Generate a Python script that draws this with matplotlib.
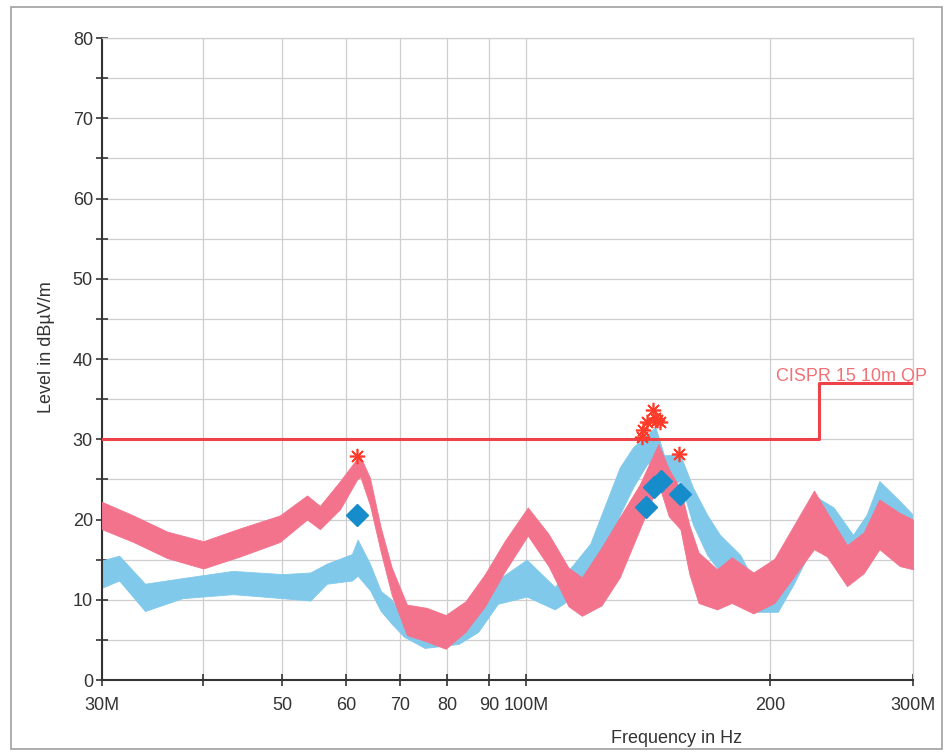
import numpy as np
import matplotlib
matplotlib.use("Agg")
import matplotlib.pyplot as plt
from matplotlib.patches import Rectangle
from matplotlib.ticker import FixedLocator, FixedFormatter, NullLocator

plt.rcParams['font.family'] = ['Liberation Sans', 'DejaVu Sans']

# horizontal trace (pink), read as low/high envelope of the noisy band
pink_f = [30, 32.8, 36.1, 40, 44.4, 49.7, 53.7, 55.7, 59, 61.9, 62.5, 64.2, 66.2,
          68.3, 71.3, 75.4, 79.6, 84.2, 89, 94.1, 100.5, 106.6, 112.8, 117.2,
          123.9, 130.5, 138, 145.6, 150, 155, 159, 163.2, 172, 179.3, 190.7,
          202.4, 214, 226.5, 235, 248.8, 260.8, 272.7, 289, 300]
pink_lo = [18.8, 17.2, 15.2, 13.9, 15.4, 17.2, 20.0, 18.8, 21.3, 25.0, 25.3, 21.8, 16.0,
           10.6, 5.6, 4.8, 3.9, 6.0, 9.2, 13.5, 18.0, 14.2, 9.2, 8.0,
           9.3, 12.8, 18.7, 24.5, 20.4, 18.8, 13.2, 9.6, 8.8, 9.6, 8.3,
           9.6, 12.9, 16.3, 15.4, 11.7, 13.3, 16.3, 14.2, 13.8]
pink_hi = [22.2, 20.5, 18.5, 17.3, 18.9, 20.5, 23.0, 21.7, 24.8, 27.6, 27.8, 25.2, 19.0,
           14.0, 9.4, 9.0, 8.1, 9.8, 13.2, 17.3, 21.5, 18.2, 14.0, 12.8,
           16.5, 20.3, 24.3, 29.4, 26.3, 23.8, 19.3, 15.9, 13.8, 15.3, 13.4,
           15.1, 19.3, 23.6, 20.9, 16.8, 18.4, 22.5, 20.8, 20.0]

# vertical trace (light blue)
blue_f = [30, 31.5, 33.9, 37.7, 43.5, 50.1, 54.2, 56.8, 61, 62, 64.2, 66.2, 68.3,
          70.7, 75, 82.6, 87.3, 92.3, 100.2, 108.5, 114.6, 120, 126.3, 130.5,
          135.5, 141, 144.4, 148, 154.9, 160.6, 167.2, 173.4, 183.7, 192.9,
          204.4, 213.9, 226.5, 239.5, 253, 263, 272.7, 289, 300]
blue_lo = [11.5, 12.4, 8.6, 10.2, 10.7, 10.2, 9.9, 12, 12.4, 13, 11.2, 8.6, 7,
           5.4, 4, 4.5, 6, 9.5, 10.4, 8.8, 10.4, 12, 16.5, 20.6,
           24, 26.9, 27.5, 24, 24.8, 19.4, 15.6, 13.5, 12.3, 8.5,
           8.5, 12, 17, 17, 15.6, 16.9, 20.6, 19, 18.1]
blue_hi = [14.9, 15.5, 12, 12.7, 13.6, 13.2, 13.4, 14.5, 15.7, 17.5, 14.5, 11.1, 10,
           7.5, 6.5, 6.5, 9, 12.5, 15, 11.6, 14.5, 17, 22.8, 26.5,
           29, 30.6, 31.5, 28, 28.1, 24, 20.6, 18.1, 15.6, 11.5,
           13.1, 17, 23, 21.5, 18.1, 20.6, 24.8, 22.3, 20.6]

# CISPR 15 10m QP limit
limit_f = [30, 230, 230, 300]
limit_db = [30, 30, 37, 37]

# peak markers (asterisks) and final QP results (diamonds)
peak_f = [61.9, 138.9, 139.3, 141.0, 143.4, 144.1, 145.2, 146.2, 154.6]
peak_db = [27.9, 30.3, 31.2, 32.2, 33.6, 32.6, 32.4, 32.2, 28.2]
qp_f = [61.9, 140.6, 143.9, 146.9, 154.9]
qp_db = [20.6, 21.6, 24.0, 24.8, 23.2]

xticks = [30, 40, 50, 60, 70, 80, 90, 100, 200, 300]
xticklabels = ['30M', '', '50', '60', '70', '80', '90', '100M', '200', '300M']

fig = plt.figure(figsize=(9.52, 7.54), dpi=100)
ax = fig.add_axes([0.1071, 0.0981, 0.8519, 0.8515])

ax.fill_between(blue_f, blue_lo, blue_hi, color='#80c9eb', lw=0.6,
                edgecolor='#80c9eb', zorder=2)
ax.fill_between(pink_f, pink_lo, pink_hi, color='#f3738d', lw=0.6,
                edgecolor='#f3738d', zorder=3)
ax.plot(limit_f, limit_db, color='#ee4249', lw=2.2, zorder=4)
ax.plot(peak_f, peak_db, ls='none', marker=(8, 2, 0), ms=11, mew=1.2,
        color='#ff3a28', zorder=5)
ax.plot(qp_f, qp_db, ls='none', marker='D', ms=11, color='#168ccb', zorder=6)

ax.text(312, 36.8, 'CISPR 15 10m QP', color='#f07276', fontsize=13,
        ha='right', va='bottom', clip_on=False)

ax.set_xscale('log')
ax.set_xlim(30, 300)
ax.set_ylim(0, 80)
ax.xaxis.set_major_locator(FixedLocator(xticks))
ax.xaxis.set_major_formatter(FixedFormatter(xticklabels))
ax.xaxis.set_minor_locator(NullLocator())
ax.set_yticks(np.arange(0, 81, 10))
ax.set_yticks(np.arange(5, 80, 10), minor=True)

ax.grid(True, which='both', color='#cfcfcf', lw=0.9, zorder=0)
ax.set_axisbelow(True)
ax.tick_params(axis='both', which='both', direction='inout', length=9,
               width=1.2, color='#333333', labelsize=13, labelcolor='#333333')
ax.tick_params(axis='y', pad=2)
ax.tick_params(axis='x', pad=8)
for side in ['left', 'bottom']:
    ax.spines[side].set_color('#333333')
    ax.spines[side].set_linewidth(1.5)
for side in ['top', 'right']:
    ax.spines[side].set_color('#cfcfcf')
    ax.spines[side].set_linewidth(0.9)

ax.set_xlabel('Frequency in Hz', fontsize=13, color='#333333', va='center')
ax.xaxis.set_label_coords(0.709, -0.0905)
ax.set_ylabel('Level in dBµV/m', fontsize=13, color='#333333')
ax.yaxis.set_label_coords(-0.058, 0.519)

fig.patches.append(Rectangle((11 / 952, 5 / 754), 931 / 952, 742 / 754,
                             transform=fig.transFigure, fill=False,
                             edgecolor='#a0a0a0', lw=1.2))

fig.savefig('out.png', dpi=100)
